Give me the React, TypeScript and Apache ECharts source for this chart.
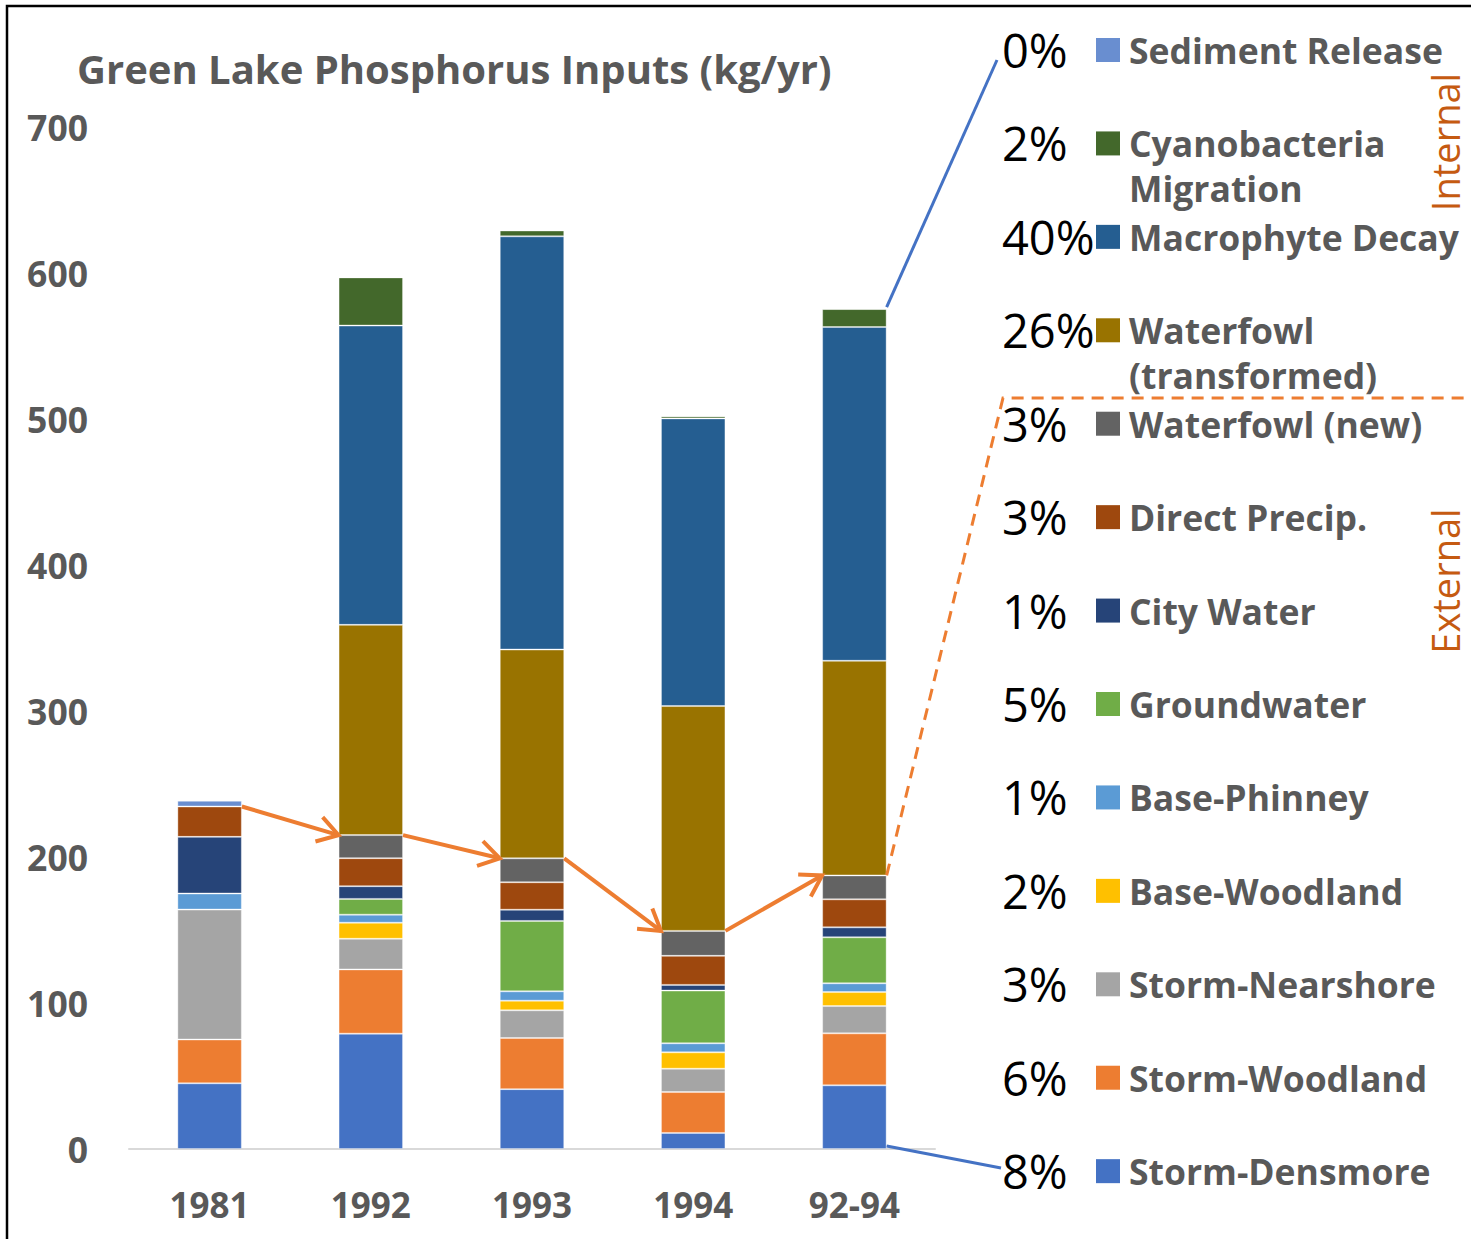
import React, { useEffect, useRef } from 'react';
import * as echarts from 'echarts';

const categories = ['1981', '1992', '1993', '1994', '92-94'];
const seriesNames = [
  'Storm-Densmore', 'Storm-Woodland', 'Storm-Nearshore', 'Base-Woodland', 'Base-Phinney',
  'Groundwater', 'City Water', 'Direct Precip.', 'Waterfowl (new)', 'Waterfowl (transformed)',
  'Macrophyte Decay', 'Cyanobacteria Migration', 'Sediment Release',
];
const legendLabels = [
  ['Storm-Densmore'], ['Storm-Woodland'], ['Storm-Nearshore'], ['Base-Woodland'], ['Base-Phinney'],
  ['Groundwater'], ['City Water'], ['Direct Precip.'], ['Waterfowl (new)'], ['Waterfowl', '(transformed)'],
  ['Macrophyte Decay'], ['Cyanobacteria', 'Migration'], ['Sediment Release'],
];
const sharePercents = ['8%', '6%', '3%', '2%', '1%', '5%', '1%', '3%', '3%', '26%', '40%', '2%', '0%'];
const seriesColors = [
  '#4472C4', '#ED7D31', '#A5A5A5', '#FFC000', '#5B9BD5', '#70AD47', '#264478', '#9E480E',
  '#636363', '#997300', '#255E91', '#43682B', '#698ED0',
];

const stormDensmore = [45, 79, 41, 11, 43.6];
const stormWoodland = [30, 44, 35, 28, 35.6];
const stormNearshore = [89, 21, 19, 16, 18.7];
const baseWoodland = [0, 11, 6.6, 11.2, 9.6];
const basePhinney = [11, 5.5, 6.4, 6.2, 6];
const groundwater = [0, 10.8, 48.2, 36.1, 31.5];
const cityWater = [38.8, 8.7, 7.7, 3.9, 6.8];
const directPrecip = [20.8, 19.2, 18.8, 19.9, 19.2];
const waterfowlNew = [0, 15.8, 16.4, 17.1, 16.4];
const waterfowlTransformed = [0, 144, 143, 154, 147];
const macrophyteDecay = [0, 205, 283, 197, 228.6];
const cyanobacteria = [0, 33, 4, 1.4, 12.3];
const sedimentRelease = [3.9, 0, 0, 0, 0];

const yTicks = { min: 0, max: 700, interval: 100 };
const externalCount = 9; // first 9 series are external inputs

const allSeries = [
  stormDensmore, stormWoodland, stormNearshore, baseWoodland, basePhinney, groundwater,
  cityWater, directPrecip, waterfowlNew, waterfowlTransformed, macrophyteDecay, cyanobacteria,
  sedimentRelease,
];

const FONT = '"Open Sans", Lato, sans-serif';
const GRAY = '#595959';
const ORANGE = '#ED7D31';
const BLUE = '#4472C4';

function arrowHead(tip: number[], from: number[], len: number, ang: number) {
  const dx = tip[0] - from[0];
  const dy = tip[1] - from[1];
  const d = Math.sqrt(dx * dx + dy * dy);
  const ux = dx / d;
  const uy = dy / d;
  const rot = (a: number) => [
    tip[0] - len * (ux * Math.cos(a) - uy * Math.sin(a)),
    tip[1] - len * (ux * Math.sin(a) + uy * Math.cos(a)),
  ];
  return [rot(ang), tip, rot(-ang)];
}

export default function App() {
  const ref = useRef<HTMLDivElement>(null);
  useEffect(() => {
    if (!ref.current) return;
    const chart = echarts.init(ref.current, undefined, { renderer: 'svg' });
    const option: any = {
      animation: false,
      backgroundColor: '#ffffff',
      title: {
        text: 'Green Lake Phosphorus Inputs (kg/yr)',
        left: 72,
        top: 40,
        textStyle: { fontFamily: FONT, fontSize: 40, fontWeight: 'bold', color: GRAY, lineHeight: 46 },
      },
      grid: { left: 129, right: 536, top: 127, bottom: 90, containLabel: false },
      xAxis: {
        type: 'category',
        data: categories,
        axisLine: { show: true, lineStyle: { color: '#d9d9d9', width: 2 } },
        axisTick: { show: false },
        axisLabel: {
          margin: 37,
          fontFamily: FONT,
          fontSize: 35,
          fontWeight: 'bold',
          color: GRAY,
          lineHeight: 36,
        },
      },
      yAxis: {
        type: 'value',
        min: yTicks.min,
        max: yTicks.max,
        interval: yTicks.interval,
        splitLine: { show: false },
        axisLine: { show: false },
        axisTick: { show: false },
        axisLabel: { margin: 41, fontFamily: FONT, fontSize: 35.5, fontWeight: 'bold', color: GRAY },
      },
      series: allSeries.map((data, i) => ({
        name: seriesNames[i],
        type: 'bar',
        stack: 'total',
        barWidth: '40%',
        data,
        itemStyle: { color: seriesColors[i], borderColor: 'rgba(255,255,255,0.35)', borderWidth: 1 },
      })),
    };
    chart.setOption(option);

    const px = (i: number, v: number) => chart.convertToPixel({ gridIndex: 0 }, [i, v]) as number[];
    const band = px(1, 0)[0] - px(0, 0)[0];
    const half = (band * 0.4) / 2;
    const ext = categories.map((_, c) => {
      let s = 0;
      for (let k = 0; k < externalCount; k++) s += allSeries[k][c];
      return s;
    });
    const tot = categories.map((_, c) => allSeries.reduce((a, s) => a + s[c], 0));

    const g: any[] = [];
    // frame
    g.push({
      type: 'rect',
      shape: { x: 7, y: 6, width: 1480, height: 1260 },
      style: { fill: 'none', stroke: '#000', lineWidth: 2.5 },
      silent: true,
    });
    // trend arrows between external totals
    for (let i = 0; i < categories.length - 1; i++) {
      const a = px(i, ext[i]);
      const b = px(i + 1, ext[i + 1]);
      const start = [a[0] + half, a[1]];
      const tip = [b[0] - half, b[1]];
      g.push({
        type: 'line',
        shape: { x1: start[0], y1: start[1], x2: tip[0], y2: tip[1] },
        style: { stroke: ORANGE, lineWidth: 4 },
        z: 10,
      });
      g.push({
        type: 'polyline',
        shape: { points: arrowHead(tip, start, 24, (32 * Math.PI) / 180) },
        style: { stroke: ORANGE, lineWidth: 4, fill: 'none' },
        z: 10,
      });
    }
    // connector lines from 92-94 bar to legend
    const last = categories.length - 1;
    const topP = px(last, tot[last]);
    const botP = px(last, 0);
    const extP = px(last, ext[last]);
    g.push({
      type: 'line',
      shape: { x1: topP[0] + half, y1: topP[1] - 2, x2: 997, y2: 60 },
      style: { stroke: BLUE, lineWidth: 3 },
      z: 10,
    });
    g.push({
      type: 'line',
      shape: { x1: botP[0] + half, y1: botP[1] - 3, x2: 1001, y2: 1168 },
      style: { stroke: BLUE, lineWidth: 3 },
      z: 10,
    });
    g.push({
      type: 'polyline',
      shape: { points: [[extP[0] + half, extP[1]], [1003, 398], [1475, 398]] },
      style: { stroke: ORANGE, lineWidth: 3, lineDash: [12, 8], fill: 'none' },
      z: 10,
    });
    // legend
    const legTop = 50;
    const legGap = 93.43;
    const lineGap = 45;
    for (let k = 0; k < seriesNames.length; k++) {
      const si = seriesNames.length - 1 - k;
      const cy = legTop + k * legGap;
      g.push({
        type: 'text',
        x: 1002,
        y: cy,
        style: {
          text: sharePercents[si],
          fontFamily: FONT,
          fontSize: 47,
          lineHeight: 48,
          fill: '#000',
          align: 'left',
          verticalAlign: 'middle',
        },
      });
      g.push({
        type: 'rect',
        shape: { x: 1096, y: cy - 12, width: 24, height: 24 },
        style: { fill: seriesColors[si] },
      });
      legendLabels[si].forEach((line, li) => {
        g.push({
          type: 'text',
          x: 1129,
          y: cy + li * lineGap,
          style: {
            text: line,
            fontFamily: FONT,
            fontSize: 35.5,
            lineHeight: 36,
            fontWeight: 'bold',
            fill: GRAY,
            align: 'left',
            verticalAlign: 'middle',
          },
        });
      });
    }
    // group labels
    const groupLabel = (text: string, y: number) => ({
      type: 'text',
      x: 1445,
      y,
      rotation: Math.PI / 2,
      style: {
        text,
        fontFamily: FONT,
        fontSize: 38,
        lineHeight: 34,
        fill: '#C55A11',
        align: 'center',
        verticalAlign: 'middle',
      },
    });
    g.push(groupLabel('Internal', 142));
    g.push(groupLabel('External', 581));
    chart.setOption({ graphic: g });

    return () => chart.dispose();
  }, []);
  return (
    <div
      ref={ref}
      style={{ position: 'absolute', left: 0, top: 0, width: 1471, height: 1239, background: '#fff' }}
    />
  );
}
